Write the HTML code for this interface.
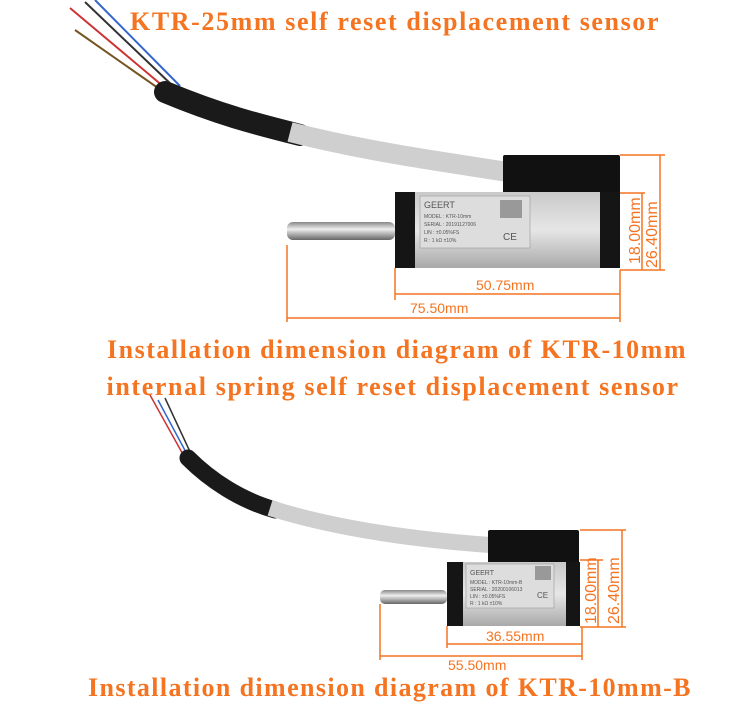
<!DOCTYPE html>
<html><head><meta charset="utf-8"><style>
html,body{margin:0;padding:0;background:#fff;width:750px;height:712px;overflow:hidden}
svg{display:block}
.t{font-family:"Liberation Serif",serif;font-weight:bold;fill:#f47421;font-size:26px;letter-spacing:1.5px}
.d{font-family:"Liberation Sans",sans-serif;fill:#f47421;font-size:14px}
.v{font-family:"Liberation Sans",sans-serif;fill:#f47421;font-size:16px}
.lbl{font-family:"Liberation Sans",sans-serif;fill:#555;font-size:5px}
</style></head><body>
<svg width="750" height="712" viewBox="0 0 750 712">
<defs>
<linearGradient id="al" x1="0" y1="0" x2="0" y2="1"><stop offset="0" stop-color="#c9c9c9"/><stop offset="0.5" stop-color="#e6e6e6"/><stop offset="1" stop-color="#a9a9a9"/></linearGradient>
<linearGradient id="rod" x1="0" y1="0" x2="0" y2="1"><stop offset="0" stop-color="#888"/><stop offset="0.4" stop-color="#eee"/><stop offset="1" stop-color="#666"/></linearGradient>
</defs>
<text class="t" x="395" y="30" text-anchor="middle" textLength="530">KTR-25mm self reset displacement sensor</text>
<path d="M70 8 L170 92" stroke="#c33" stroke-width="2" fill="none"/>
<path d="M85 2 L175 88" stroke="#333" stroke-width="2" fill="none"/>
<path d="M95 0 L180 86" stroke="#36c" stroke-width="2" fill="none"/>
<path d="M75 30 L168 95" stroke="#752" stroke-width="2" fill="none"/>
<path d="M165 92 C220 115 260 125 300 135" stroke="#1a1a1a" stroke-width="22" fill="none" stroke-linecap="round"/>
<path d="M290 132 C360 150 430 160 508 172" stroke="#cfcfcf" stroke-width="20" fill="none"/>
<rect x="503" y="155" width="117" height="40" fill="#111" rx="2"/>
<rect x="287" y="222" width="108" height="18" fill="url(#rod)" rx="6"/>
<rect x="395" y="192" width="20" height="76" fill="#151515"/>
<rect x="415" y="192" width="187" height="76" fill="url(#al)"/>
<rect x="600" y="192" width="20" height="76" fill="#151515"/>
<rect x="420" y="196" width="110" height="52" fill="#ddd" stroke="#999" stroke-width="0.6"/>
<text x="424" y="208" font-family="Liberation Sans" font-size="9" fill="#555">GEERT</text>
<text class="lbl" x="424" y="218">MODEL : KTR-10mm</text>
<text class="lbl" x="424" y="226">SERIAL : 20191127006</text>
<text class="lbl" x="424" y="234">LIN : ±0.05%FS</text>
<text class="lbl" x="424" y="242">R : 1 kΩ ±10%</text>
<rect x="500" y="200" width="22" height="18" fill="#999"/>
<text x="503" y="240" font-family="Liberation Sans" font-size="10" fill="#555">CE</text>
<g stroke="#f47421" stroke-width="1.5" fill="none">
<path d="M620 155 H665 M620 193 H645 M620 270 H665 M642 193 V270 M660 155 V270"/>
<path d="M395 268 V300 M620 270 V322 M287 245 V322 M395 294 H620 M287 318 H620"/>
</g>
<text class="d" x="476" y="290">50.75mm</text>
<text class="d" x="410" y="313">75.50mm</text>
<text class="v" transform="translate(640,264) rotate(-90)">18.00mm</text>
<text class="v" transform="translate(657,268) rotate(-90)">26.40mm</text>
<text class="t" x="397" y="358" text-anchor="middle" textLength="580">Installation dimension diagram of KTR-10mm</text>
<text class="t" x="393" y="395" text-anchor="middle" textLength="573">internal spring self reset displacement sensor</text>
<path d="M150 395 L185 458" stroke="#c33" stroke-width="1.5" fill="none"/>
<path d="M158 400 L188 456" stroke="#36c" stroke-width="1.5" fill="none"/>
<path d="M165 398 L192 456" stroke="#333" stroke-width="1.5" fill="none"/>
<path d="M188 458 C210 480 240 500 275 510" stroke="#1a1a1a" stroke-width="17" fill="none" stroke-linecap="round"/>
<path d="M270 508 C340 530 420 540 490 545" stroke="#cfcfcf" stroke-width="16" fill="none"/>
<rect x="488" y="530" width="91" height="34" fill="#111" rx="2"/>
<rect x="380" y="590" width="67" height="14" fill="url(#rod)" rx="5"/>
<rect x="447" y="562" width="16" height="64" fill="#151515"/>
<rect x="463" y="562" width="105" height="64" fill="url(#al)"/>
<rect x="566" y="562" width="14" height="64" fill="#151515"/>
<rect x="466" y="564" width="88" height="44" fill="#ddd" stroke="#999" stroke-width="0.6"/>
<text x="470" y="575" font-family="Liberation Sans" font-size="7" fill="#555">GEERT</text>
<text class="lbl" x="470" y="584" font-size="4">MODEL : KTR-10mm-B</text>
<text class="lbl" x="470" y="591" font-size="4">SERIAL : 20200106013</text>
<text class="lbl" x="470" y="598" font-size="4">LIN : ±0.05%FS</text>
<text class="lbl" x="470" y="605" font-size="4">R : 1 kΩ ±10%</text>
<rect x="535" y="566" width="16" height="14" fill="#999"/>
<text x="537" y="598" font-family="Liberation Sans" font-size="8" fill="#555">CE</text>
<g stroke="#f47421" stroke-width="1.5" fill="none">
<path d="M580 530 H626 M580 560 H603 M580 627 H626 M598 560 V627 M622 530 V627"/>
<path d="M447 626 V648 M582 627 V660 M380 604 V660 M447 644 H582 M380 656 H582"/>
</g>
<text class="d" x="486" y="641">36.55mm</text>
<text class="d" x="448" y="670">55.50mm</text>
<text class="v" transform="translate(596,624) rotate(-90)">18.00mm</text>
<text class="v" transform="translate(619,624) rotate(-90)">26.40mm</text>
<text class="t" x="390" y="696" text-anchor="middle" textLength="604">Installation dimension diagram of KTR-10mm-B</text>
</svg>
</body></html>
